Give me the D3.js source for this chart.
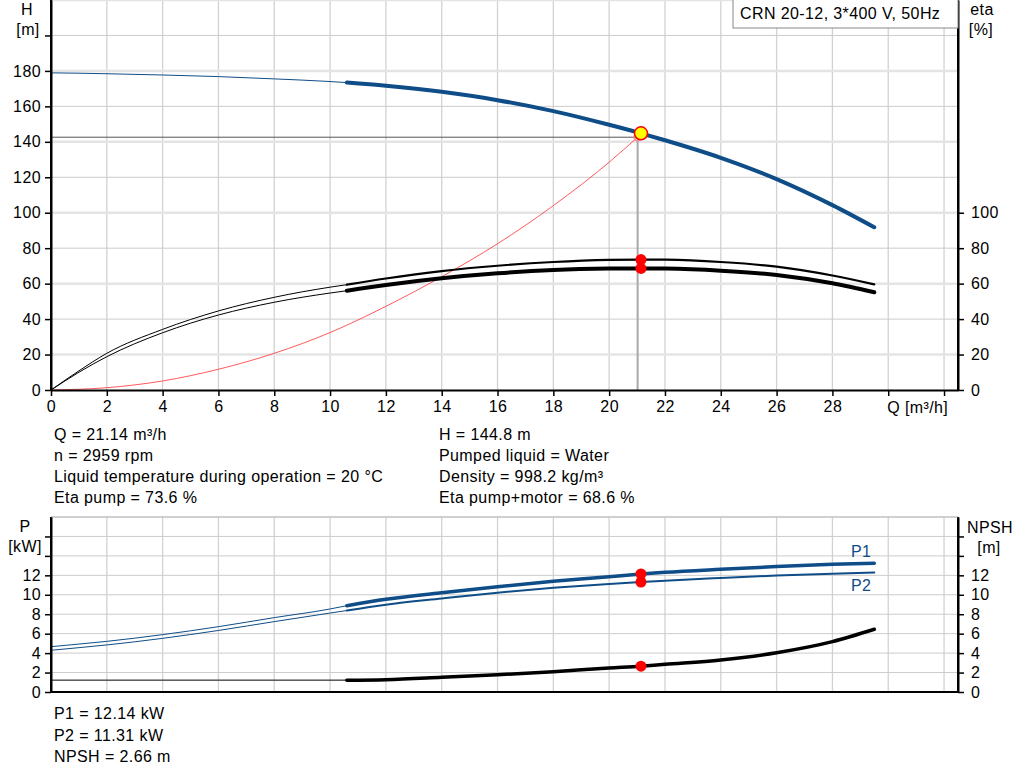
<!DOCTYPE html>
<html>
<head>
<meta charset="utf-8">
<script src="https://cdn.jsdelivr.net/npm/d3@7"></script>
<style>
  body { margin: 0; background: #fff; }
  text { font-family: "Liberation Sans", Arial, sans-serif; font-size: 16px; letter-spacing: 0.4px; fill: #000; }
</style>
</head>
<body>
<div id="chart"></div>
<script>
// curve data (Q in m3/h)
const flow     = [0, 1, 2, 4, 6, 8, 10, 10.6, 12, 14, 16, 18, 20, 21.14, 22, 24, 26, 28, 29.5];
const head     = [178.9, 178.7, 178.4, 177.7, 176.8, 175.5, 174.0, 173.4, 171.6, 168.2, 163.5, 157.3, 149.6, 144.8, 140.9, 131.0, 119.0, 104.3, 91.8];
const etaPump  = [0, 10.8, 20.7, 34.2, 44.6, 52.3, 58.0, 59.4, 62.9, 67.1, 70.1, 72.2, 73.4, 73.6, 73.5, 72.2, 69.6, 64.6, 59.6];
const etaTotal = [0, 10.0, 18.8, 32.3, 42.3, 49.5, 54.7, 56.0, 59.2, 63.0, 65.8, 67.7, 68.5, 68.6, 68.5, 67.3, 64.9, 60.2, 55.1];
const p1       = [4.66, 4.93, 5.21, 5.90, 6.72, 7.65, 8.54, 8.88, 9.53, 10.22, 10.83, 11.39, 11.86, 12.14, 12.31, 12.62, 12.90, 13.13, 13.24];
const p2       = [4.29, 4.56, 4.84, 5.52, 6.33, 7.24, 8.12, 8.38, 8.98, 9.62, 10.22, 10.72, 11.12, 11.31, 11.45, 11.73, 11.98, 12.17, 12.28];
const npsh     = [1.22, 1.22, 1.22, 1.22, 1.22, 1.22, 1.22, 1.22, 1.27, 1.51, 1.78, 2.09, 2.47, 2.66, 2.85, 3.29, 4.04, 5.18, 6.45];

// system curve
const sysQ = [0, 2, 4, 6, 8, 10, 12, 14, 16, 18, 20, 21.02];
const sysH = [0, 1.3, 5.1, 11.7, 20.7, 32.4, 47.2, 63.9, 82.5, 104.0, 128.5, 142.6];

// duty point
const dutyQ = 21.14, dutyH = 144.8, dutyEta = [73.6, 68.6], dutyP = [12.14, 11.31], dutyNpsh = 2.66;
const minQ = 10.6; // start of the bold (recommended) range

const xTicks = d3.range(0, 33, 2);
const hTicks = d3.range(0, 201, 20);
const etaTicks = d3.range(0, 101, 20);
const pTicks = d3.range(0, 17, 2);

const title = 'CRN 20-12, 3*400 V, 50Hz';
const infoLeft = ['Q = 21.14 m³/h', 'n = 2959 rpm', 'Liquid temperature during operation = 20 °C', 'Eta pump = 73.6 %'];
const infoRight = ['H = 144.8 m', 'Pumped liquid = Water', 'Density = 998.2 kg/m³', 'Eta pump+motor = 68.6 %'];
const infoPower = ['P1 = 12.14 kW', 'P2 = 11.31 kW', 'NPSH = 2.66 m'];

const width = 1024, height = 781;
const left = 51, right = 958;
const blue = '#0f4d88';
const font = '"Liberation Sans", Arial, sans-serif';

const svg = d3.select('#chart').append('svg')
  .attr('width', width)
  .attr('height', height);

const x = d3.scaleLinear().domain([0, 32.5]).range([left, right]);
const yH = d3.scaleLinear().domain([0, 220]).range([390, 0]);
const yP = d3.scaleLinear().domain([0, 18]).range([692, 517]);

// grids
function grid(g, y, yVals, top, bottom, alt) {
  g.selectAll('.vg').data(xTicks).enter().append('line')
    .attr('x1', d => x(d)).attr('x2', d => x(d))
    .attr('y1', top).attr('y2', bottom)
    .attr('stroke', '#d2d2d2').attr('stroke-width', 1.3);
  g.selectAll('.hg').data(yVals).enter().append('line')
    .attr('x1', left).attr('x2', right)
    .attr('y1', d => y(d)).attr('y2', d => y(d))
    .attr('stroke', d => alt && (d / 20) % 2 === 1 ? '#e4e4e4' : '#cccccc')
    .attr('stroke-width', d => alt && (d / 20) % 2 === 1 ? 2.5 : 1);
}
grid(svg.append('g'), yH, d3.range(20, 221, 20), 0, 390, true);
grid(svg.append('g'), yP, d3.range(2, 19, 2), 517, 692, false);

// duty lines
const sysEndQ = sysQ[sysQ.length - 1], sysEndH = sysH[sysH.length - 1];
svg.append('line')
  .attr('x1', left).attr('x2', x(sysEndQ))
  .attr('y1', yH(sysEndH)).attr('y2', yH(sysEndH))
  .attr('stroke', '#555').attr('stroke-width', 1);
svg.append('line')
  .attr('x1', x(sysEndQ)).attr('x2', x(sysEndQ))
  .attr('y1', yH(sysEndH)).attr('y2', yH(0))
  .attr('stroke', '#a8a8a8').attr('stroke-width', 2);

function drawSeries(vals, y, color, thin, thick) {
  const pts = flow.map((q, i) => [q, vals[i]]);
  const line = d3.line().x(d => x(d[0])).y(d => y(d[1])).curve(d3.curveMonotoneX);
  svg.append('path').datum(pts.filter(d => d[0] <= minQ))
    .attr('d', line).attr('fill', 'none')
    .attr('stroke', color).attr('stroke-width', thin);
  svg.append('path').datum(pts.filter(d => d[0] >= minQ))
    .attr('d', line).attr('fill', 'none')
    .attr('stroke', color).attr('stroke-width', thick)
    .attr('stroke-linecap', 'round');
}

// system curve
svg.append('path')
  .datum(sysQ.map((q, i) => [q, sysH[i]]))
  .attr('d', d3.line().x(d => x(d[0])).y(d => yH(d[1])).curve(d3.curveMonotoneX))
  .attr('fill', 'none').attr('stroke', '#ff3030').attr('stroke-width', 0.8);

drawSeries(head, yH, blue, 1, 4);
drawSeries(etaPump, yH, '#000', 1, 2.2);
drawSeries(etaTotal, yH, '#000', 1, 4);
drawSeries(p1, yP, blue, 1, 3.5);
drawSeries(p2, yP, blue, 1, 2);
drawSeries(npsh, yP, '#000', 1, 3.5);

// markers
svg.append('circle')
  .attr('cx', x(sysEndQ)).attr('cy', yH(sysEndH)).attr('r', 4)
  .attr('fill', 'none').attr('stroke', '#ff8080').attr('stroke-width', 1);
svg.selectAll('.me').data(dutyEta).enter().append('circle')
  .attr('cx', x(dutyQ)).attr('cy', d => yH(d)).attr('r', 5.5).attr('fill', '#ff0000');
svg.selectAll('.mp').data(dutyP.concat([dutyNpsh])).enter().append('circle')
  .attr('cx', x(dutyQ)).attr('cy', d => yP(d)).attr('r', 5.5).attr('fill', '#ff0000');
svg.append('circle')
  .attr('cx', x(dutyQ)).attr('cy', yH(dutyH)).attr('r', 6.5)
  .attr('fill', '#ffff00').attr('stroke', '#ff0000').attr('stroke-width', 1.5);

// axes
function styleAxis(g) {
  g.select('.domain').attr('stroke', '#000').attr('stroke-width', 2);
  g.selectAll('.tick line').attr('stroke', '#000').attr('stroke-width', 1.5);
  g.selectAll('.tick text').style('font-size', '16px').style('letter-spacing', '0.4px').style('font-family', font);
}

svg.append('g').attr('transform', 'translate(0,390)')
  .call(d3.axisBottom(x).tickValues(xTicks).tickSize(6).tickSizeOuter(0).tickPadding(5)
    .tickFormat(d => d <= 28 ? d : ''))
  .call(styleAxis);
svg.append('g').attr('transform', `translate(${left},0)`)
  .call(d3.axisLeft(yH).tickValues(hTicks).tickSize(6).tickSizeOuter(0).tickPadding(4)
    .tickFormat(d => d <= 180 ? d : ''))
  .call(styleAxis);
svg.append('g').attr('transform', `translate(${right},0)`)
  .call(d3.axisRight(yH).tickValues(etaTicks).tickSize(6).tickSizeOuter(0).tickPadding(7))
  .call(styleAxis);

// axis lines that run the full height
[left, right].forEach(px => {
  svg.append('line').attr('x1', px).attr('x2', px).attr('y1', 0).attr('y2', 391)
    .attr('stroke', '#000').attr('stroke-width', 2);
  svg.append('line').attr('x1', px).attr('x2', px).attr('y1', 517).attr('y2', 693)
    .attr('stroke', '#000').attr('stroke-width', 2);
});
svg.append('line').attr('x1', left).attr('x2', right).attr('y1', 692).attr('y2', 692)
  .attr('stroke', '#000').attr('stroke-width', 2);
svg.append('line').attr('x1', left).attr('x2', right).attr('y1', 517).attr('y2', 517)
  .attr('stroke', '#bbb').attr('stroke-width', 1);

svg.append('g').attr('transform', `translate(${left},0)`)
  .call(d3.axisLeft(yP).tickValues(pTicks).tickSize(6).tickSizeOuter(0).tickPadding(4)
    .tickFormat(d => d <= 12 ? d : ''))
  .call(styleAxis);
svg.append('g').attr('transform', `translate(${right},0)`)
  .call(d3.axisRight(yP).tickValues(pTicks).tickSize(6).tickSizeOuter(0).tickPadding(7)
    .tickFormat(d => d <= 12 ? d : ''))
  .call(styleAxis);

// axis titles
svg.append('text').attr('x', x(30) - 1).attr('y', 413).text('Q [m³/h]');
svg.append('text').attr('x', 27).attr('y', 15).attr('text-anchor', 'middle').text('H');
svg.append('text').attr('x', 28).attr('y', 35).attr('text-anchor', 'middle').text('[m]');
svg.append('text').attr('x', 982).attr('y', 15).attr('text-anchor', 'middle').text('eta');
svg.append('text').attr('x', 981).attr('y', 35).attr('text-anchor', 'middle').text('[%]');
svg.append('text').attr('x', 25).attr('y', 532).attr('text-anchor', 'middle').text('P');
svg.append('text').attr('x', 25).attr('y', 552).attr('text-anchor', 'middle').text('[kW]');
svg.append('text').attr('x', 990).attr('y', 533).attr('text-anchor', 'middle').text('NPSH');
svg.append('text').attr('x', 989).attr('y', 553).attr('text-anchor', 'middle').text('[m]');
svg.append('text').attr('x', 851).attr('y', 557).style('fill', blue).text('P1');
svg.append('text').attr('x', 851).attr('y', 591).style('fill', blue).text('P2');

// title box
svg.append('rect').attr('x', 733).attr('y', -1).attr('width', right - 733).attr('height', 29)
  .attr('fill', '#fff').attr('stroke', '#888').attr('stroke-width', 1);
svg.append('text').attr('x', 740).attr('y', 19).text(title);

// info text
svg.selectAll('.il').data(infoLeft).enter().append('text')
  .attr('x', 54).attr('y', (d, i) => 440 + i * 21).text(d => d);
svg.selectAll('.ir').data(infoRight).enter().append('text')
  .attr('x', 439).attr('y', (d, i) => 440 + i * 21).text(d => d);
svg.selectAll('.ip').data(infoPower).enter().append('text')
  .attr('x', 54).attr('y', (d, i) => 719 + i * 21.5).text(d => d);
</script>
</body>
</html>
